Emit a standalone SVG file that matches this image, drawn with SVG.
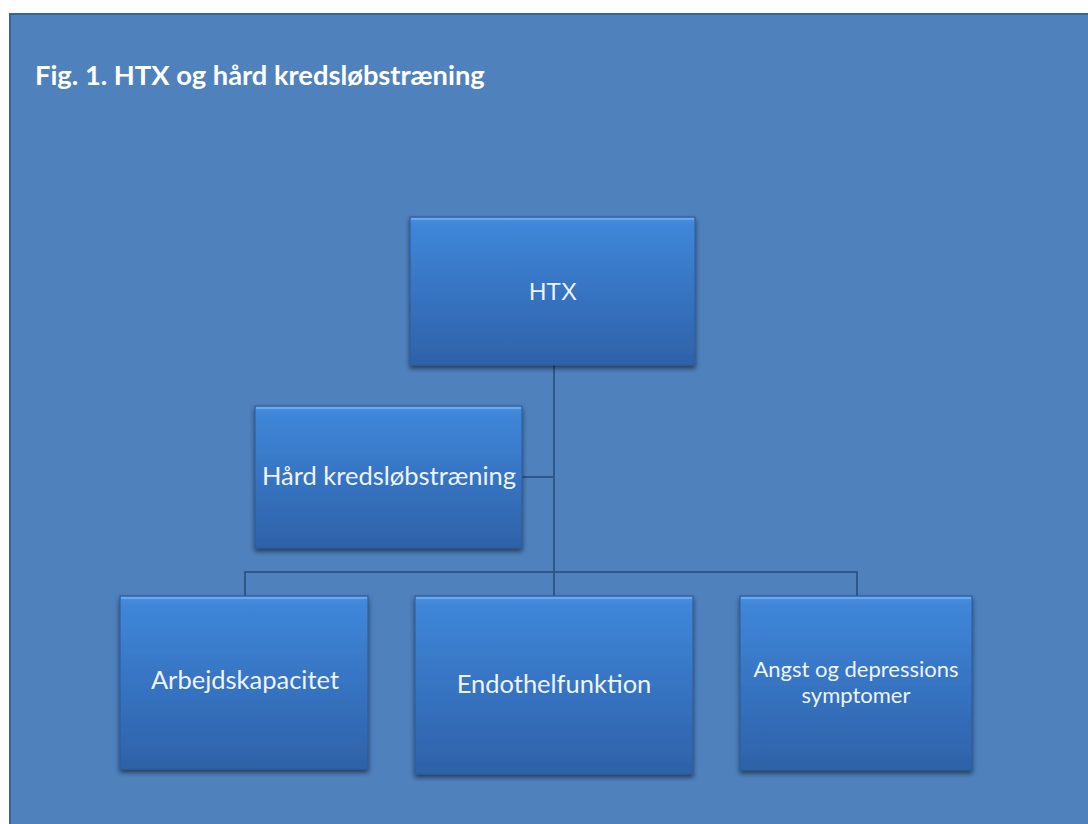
<svg xmlns="http://www.w3.org/2000/svg" width="1088" height="824" viewBox="0 0 1088 824">
<defs>
<linearGradient id="boxg" x1="0" y1="0" x2="0" y2="1">
<stop offset="0" stop-color="#4a8ee0"/>
<stop offset="0.06" stop-color="#3f86d8"/>
<stop offset="0.55" stop-color="#3672c0"/>
<stop offset="1" stop-color="#2e62a8"/>
</linearGradient>
<filter id="sh" x="-10%" y="-10%" width="120%" height="125%">
<feGaussianBlur in="SourceAlpha" stdDeviation="2.5"/>
<feOffset dx="0" dy="3" result="b"/>
<feComponentTransfer><feFuncA type="linear" slope="0.55"/></feComponentTransfer>
<feMerge><feMergeNode/><feMergeNode in="SourceGraphic"/></feMerge>
</filter>
</defs>
<style>
.box{fill:url(#boxg);stroke:#2a5a98;stroke-width:1;filter:url(#sh)}
.hl{fill:none;stroke:#6aa8ec;stroke-width:2}
.lbl{font-family:Lato,"Open Sans",sans-serif;font-size:25.5px;fill:#eef4fb;text-anchor:middle}
.conn{fill:none;stroke:#2d5888;stroke-width:2}
</style>
<rect x="0" y="0" width="1088" height="824" fill="#ffffff"/>
<rect x="9" y="13" width="1079" height="811" fill="#4f81bd"/>
<line x1="9" y1="14" x2="1088" y2="14" stroke="#3a6294" stroke-width="2"/>
<line x1="10" y1="13" x2="10" y2="824" stroke="#3a6294" stroke-width="2"/>
<text x="35" y="85" font-family="Lato,'Open Sans',sans-serif" font-weight="bold" font-size="27.3" fill="#ffffff">Fig. 1. HTX og hård kredsløbstræning</text>
<g id="connectors">
<path class="conn" d="M554 365 V572"/>
<path class="conn" d="M522 477 H554"/>
<path class="conn" d="M245 596 V572 H857 V596"/>
<path class="conn" d="M554 572 V596"/>
</g>
<g id="node-htx">
<rect class="box" x="410" y="217" width="285" height="148"/>
<line class="hl" x1="411" y1="219" x2="694" y2="219"/>
<text class="lbl" x="553" y="300" style="font-family:'Liberation Sans',Arial,sans-serif;font-size:24px">HTX</text>
</g>
<g id="node-hard">
<rect class="box" x="255" y="406" width="267" height="142"/>
<line class="hl" x1="256" y1="408" x2="521" y2="408"/>
<text class="lbl" x="389" y="485">Hård kredsløbstræning</text>
</g>
<g id="node-arbejd">
<rect class="box" x="120" y="596" width="248" height="173"/>
<line class="hl" x1="121" y1="598" x2="367" y2="598"/>
<text class="lbl" x="245" y="689">Arbejdskapacitet</text>
</g>
<g id="node-endo">
<rect class="box" x="415" y="596" width="278" height="178"/>
<line class="hl" x1="416" y1="598" x2="692" y2="598"/>
<text class="lbl" x="554" y="693">Endothelfunktion</text>
</g>
<g id="node-angst">
<rect class="box" x="740" y="596" width="232" height="174"/>
<line class="hl" x1="741" y1="598" x2="971" y2="598"/>
<text class="lbl" x="856" y="677" style="font-size:22px">Angst og depressions</text>
<text class="lbl" x="856" y="703" style="font-size:22px">symptomer</text>
</g>
</svg>
